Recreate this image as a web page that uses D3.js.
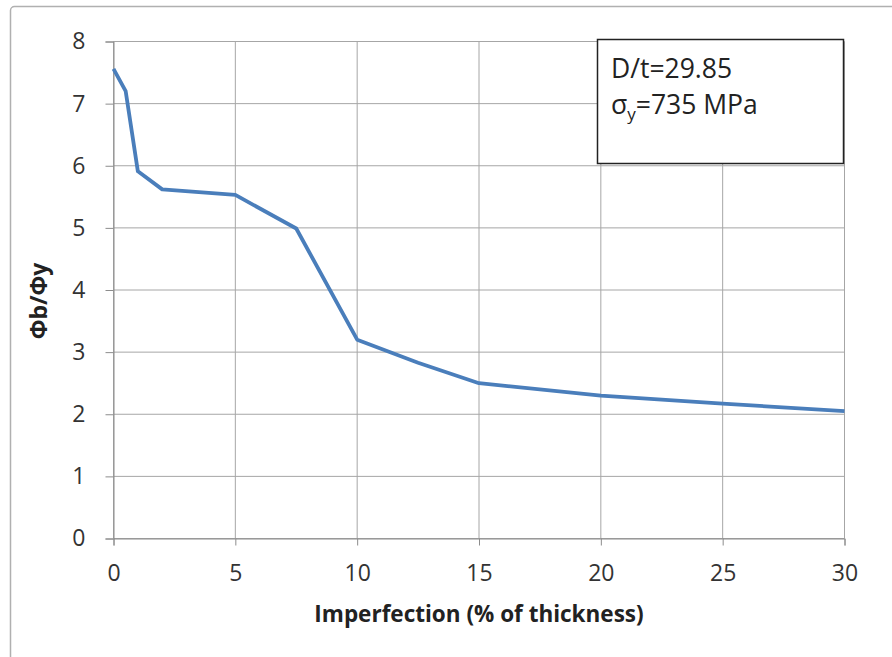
<!DOCTYPE html>
<html><head><meta charset="utf-8">
<script src="https://cdn.jsdelivr.net/npm/d3@7"></script>
<style>body{margin:0;background:#fff}svg{display:block}</style>
</head><body>
<script>
const xValues = [0, 0.5, 1, 2, 5, 7.5, 10, 12.5, 15, 20, 25, 30];
const yValues = [7.56, 7.2, 5.91, 5.62, 5.53, 4.99, 3.2, 2.83, 2.5, 2.3, 2.17, 2.05];
const xTicks = [0, 5, 10, 15, 20, 25, 30];
const yTicks = [0, 1, 2, 3, 4, 5, 6, 7, 8];
const xTitle = "Imperfection (% of thickness)";
const yTitle = "Φb/Φy";

const W = 892, H = 657;
const svg = d3.select("body").append("svg").attr("width", W).attr("height", H);
const font = "'Open Sans', 'Liberation Sans', sans-serif";

// outer frame
svg.append("rect").attr("x", 10.5).attr("y", 6.5).attr("width", 900).attr("height", 700)
  .attr("rx", 4).attr("fill", "none").attr("stroke", "#b0b0b0").attr("stroke-width", 1.5);

const x = d3.scaleLinear().domain([0, 30]).range([113.5, 844.5]);
const y = d3.scaleLinear().domain([0, 8]).range([538.5, 41.5]);

// grid
svg.append("g").selectAll("line.h").data(yTicks).join("line")
  .attr("x1", x(0)).attr("x2", x(30)).attr("y1", d => y(d)).attr("y2", d => y(d))
  .attr("stroke", "#a6a6a6").attr("stroke-width", 1);
svg.append("g").selectAll("line.v").data(xTicks).join("line")
  .attr("y1", y(0)).attr("y2", y(8)).attr("x1", d => x(d)).attr("x2", d => x(d))
  .attr("stroke", "#a6a6a6").attr("stroke-width", 1);

// axes
const xAxis = svg.append("g").attr("transform", `translate(0,${y(0)})`)
  .call(d3.axisBottom(x).tickValues(xTicks).tickSize(7).tickPadding(19));
const yAxis = svg.append("g").attr("transform", `translate(${x(0)},0)`)
  .call(d3.axisLeft(y).tickValues(yTicks).tickSize(8).tickPadding(20));
[xAxis, yAxis].forEach(g => {
  g.select(".domain").attr("stroke", "#8c8c8c");
  g.selectAll(".tick line").attr("stroke", "#8c8c8c");
  g.selectAll(".tick text").attr("font-family", font).attr("font-size", 23).attr("fill", "#333");
});

// line
svg.append("path").datum(xValues.map((v, i) => [v, yValues[i]]))
  .attr("d", d3.line().x(d => x(d[0])).y(d => y(d[1])))
  .attr("fill", "none").attr("stroke", "#4a7ebb").attr("stroke-width", 3.8)
  .attr("stroke-linejoin", "round");

// annotation box
svg.append("rect").attr("x", 597.5).attr("y", 39.5).attr("width", 246).attr("height", 124)
  .attr("fill", "#fff").attr("stroke", "#222").attr("stroke-width", 1.5);
svg.append("text").attr("x", 611).attr("y", 78).attr("font-family", font).attr("font-size", 26.5)
  .attr("fill", "#222").text("D/t=29.85");
const t2 = svg.append("text").attr("x", 611).attr("y", 114).attr("font-family", font).attr("font-size", 26.5)
  .attr("fill", "#222");
t2.append("tspan").text("σ");
t2.append("tspan").attr("font-size", 17).attr("dy", 6).text("y");
t2.append("tspan").attr("dy", -6).text("=735 MPa");

// titles
svg.append("text").attr("x", 479).attr("y", 622).attr("text-anchor", "middle")
  .attr("font-family", font).attr("font-size", 22.5).attr("font-weight", "bold").attr("fill", "#222")
  .text(xTitle);
svg.append("text").attr("transform", "translate(47,301) rotate(-90)").attr("text-anchor", "middle")
  .attr("font-family", font).attr("font-size", 23).attr("font-weight", "bold").attr("fill", "#222")
  .text(yTitle);
</script>
</body></html>
